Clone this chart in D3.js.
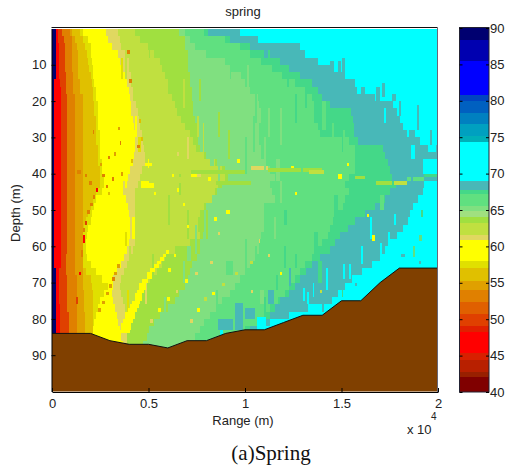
<!DOCTYPE html>
<html lang="en">
  <head>
    <meta charset="UTF-8" />
    <title>spring</title>
    <script src="https://d3js.org/d3.v7.min.js"></script>
    <style>
      html, body { margin: 0; background: #fff; }
      svg { display: block; }
      text { font-family: "Liberation Sans", Arial, sans-serif; font-size: 13px; fill: #222; }
    </style>
  </head>
  <body>
    <svg width="505" height="465"></svg>
    <script>
      // colour bar: band limits (dB) and the colour of each band
      const levelBreaks = [40, 42, 42.8, 44.4, 45.3, 48.3, 49.1, 50.7, 52.3, 54, 55.3, 57, 58, 60.9, 61.6, 63.2, 64.1, 64.8, 65.6, 67.2, 67.8, 69, 74.4, 75.2, 76.8, 78.3, 80, 80.8, 85.4, 88.4, 90];
      const levelColors = ["#800000", "#982000", "#b82000", "#d82000", "#ff0000", "#e02000", "#e04000", "#e06000", "#e08000", "#e0a000", "#e0c000", "#e0e000", "#ffff00", "#e0d860", "#c0e040", "#a0e040", "#a0e080", "#80e080", "#60e080", "#44d888", "#48b8b8", "#00ffff", "#00b0b8", "#00a0c0", "#0080c0", "#0060c0", "#0044c0", "#0000ff", "#0000b0", "#000070"];
      const colorbarTicks = [40, 45, 50, 55, 60, 65, 70, 75, 80, 85, 90];
      const depthTicks = [10, 20, 30, 40, 50, 60, 70, 80, 90];
      const rangeTicks = [0, 5000, 10000, 15000, 20000];
      const rangeTickLabels = ["0", "0.5", "1", "1.5", "2"];

      // sea floor
      const bottomRange = [0, 2000, 3000, 4000, 5000, 6000, 7000, 8000, 9000, 10000, 11000, 12000, 13000, 14000, 15000, 16000, 17000, 18000, 20000];
      const bottomDepth = [84, 84, 86, 87, 87, 88, 86, 86, 84, 83, 83, 81, 79, 79, 75, 75, 70, 66, 66];

      // depth rows, 2 m thick: d0, d2 ... d88
      const rowDepths = d3.range(0, 90, 2);
      // level inside each band, left to right. cyan runs from the last edge to 20 km
      const bandValues = [89, 46.5, 50, 53, 54.6, 56, 57.5, 59.5, 61.2, 62.5, 63.6, 65.2, 66.4, 67.5, 68.4, 72];

      // where each band ends on every depth row, in hundreds of metres
      const navyEnd = [2,2,2,2,2,2,2, 1,1,1,1,1,1,1,1,1,1,1,1,1,1,1,1,1,1,1,1,1,1,1,1,1,1, 2,2,2,2,2,2,2,2,2,2,2,2];
      const redEnd = [3,3,3.5,3.5,3.5,3.5,3.5,4, 4.5,4.5,4.5,4.5,4.5,4.5,4.5,4.5,4.5,4.5,4.5,4.5,4.5,4.5,4.5,4.5,4.5,4.5,4.5,4.5,4.5,4.5,4.5,4.5,4.5, 3.5,3.5,3.5,3.5,3.5, 4,4,4,4,4,4,4];
      const orange50End = [5,6,6.5,6.5,6.5,6.5,7,7,7, 8,8,8,8,8,8,8,8,8,8,8,8,8,8,8,8,8,8,8,8,8,8, 7,7,7, 8,8,8,8,8, 9,9,9,9,9,9];
      const orange53End = [9.5,10.5,10.5,10.5,10.5,10.5,11,11,11, 12,12,12,12,12,12,12,12,12,12,12,12,12,12,12,12,12,12,12,12,12,12,12,12,12, 13,13,13,13,13,13,13,13,13,13,13];
      const orange55End = [10.5,12,13,13.5,13.5,13.5,13.5,14.5,14.5, 16,16,16,16,16,16,16,16,16,16,16,16,16,16,16,16,16,16,16,16,16,16,16,16,16,16,16, 16.5,16.5,16.5, 17,17,17,17,17,17];
      const amberEnd = [14.5,16,17,18,18.5,19,20,20.5,21,21.5,22,22,23,23,23,23,24,24,24,25,25,25,23,21,20,18.5,17.5,16.5,16,16,16,16,16,17.5,20,20.5,21,21,21,21,21,21,21,21,21];
      const oliveEnd = [16,18.5,20,20,20.5,21,21.5,22,23,23,24,24,24,24,25,25,25,25,26,26,27,27,26,23,22,20.5,20,18.5,18,17.5,17.5,18,20,23,26,29,27,25,24,23,22,21.5,21.5,21.5,21.5];
      const yellowEnd = [28,29,31,34,35,36,38,39,40,40.5,41,41.5,42,42.5,43,43,43,42.5,42,40.5,39.5,39,38,38.5,39.5,40,40.5,40.5,40.5,40,39,37.5,36,33.5,31.5,31.5,31,31.5,32.5,33.5,34,35,36,37,37];
      const paleEnd = [34,35,36,38,40,40,41,41,42,43,43.5,44.5,45,45.5,46.5,47,47.5,48,48,46.5,45.5,44.5,43,43,43,43,43,43,43,43,42,40.5,39,37.5,36,35,36,37,38,39,39,39,39,39,39];
      const limeEnd = [43,45.5,49.5,53,56,57,58.5,60,61,62,63.5,65,67,69,71.5,73,74.5,79,84.5,88,89.5,86,84.5,83,79,76.5,75.5,75.5,76.5,71.5,63.5,58.5,57,54.5,51,48,45.5,44.5,43,41.5,40.5,39.5,39,39,39];
      const grassEnd = [66,69,69,70.5,70.5,70.5,71.5,71.5,72.5,72.5,74,74,74,75,75,75.5,76.5,80,85.5,89.5,91,88,85.5,83,80,79,79,79,78,76.5,76.5,75,72.5,71.5,70.5,69,66,63.5,60,56,53,50.5,49,47,45.5];
      const mintEnd = [69,71.5,74,80,89.5,93,97.5,100,102.5,106.5,107.5,108.5,108.5,107.5,107.5,107.5,108.5,108.5,110,113,115.5,113,114,115.5,110,110,110,110,108.5,106.5,105,105,102.5,100,97.5,95,92,88,86,82,79,76.5,74,71.5,69];
      const greenEnd = [79,89.5,97.5,102.5,108.5,114,119,126,131,134.5,136,136,136,138,139,154,157,157,157,157,154,152,154,152,151,148,145.5,144,143,140,138,134.5,131,128.5,126,123,120.5,117,113,110,106.5,100,95,89.5,84.5];
      const seaEnd = [81,92,102.5,110,118,123,128.5,134.5,138,140,144,155,156,156.5,156.5,158.5,171.5,172.5,174,175,176,178,175,172.5,167.5,162,157,153.5,149,146.5,144,139,134.5,131.5,128.5,126,123,120.5,115.5,113,109,102.5,97.5,93,89.5];
      const tealEnd = [97.5,106.5,128.5,131,138,144,152,157,162,167.5,176.5,179,180.5,182,188,190.5,195,200,192,192,200,193,192,189.5,187,185.5,184.5,182,179,175,172.5,170,166,160.5,155.5,152,148,145,132.5,123,113,106.5,100,97.5,95];
      const bandEnds = [navyEnd, redEnd, orange50End, orange53End, orange55End, amberEnd, oliveEnd, yellowEnd, paleEnd, limeEnd, grassEnd, mintEnd, greenEnd, seaEnd, tealEnd];

      const frayedEdges = [
        [36,37,8,14,57.5],[41,42,18,24,61.2],[43,44,24,30,59.5],[44.5,46,30,34,57.5],[37,38,42,46,61.2],[40,41,46,52,61.2],[41.5,43,52,58,59.5],[38,39,56,60,57.5],
        [38,39,6,14,62.5],[42,43,12,20,62.5],[45,46,18,26,62.5],[47,48,24,32,62.5],[48,49,36,40,62.5],[44,45,46,54,62.5],[40,41,60,66,62.5],[36,37,70,74,62.5],[39,40,72,80,57.5],
        [50,51,2,8,63.6],[58,59,6,12,63.6],[64,65,12,20,63.6],[68,69,14,22,62.5],[75,76,20,30,62.5],[78,79,26,34,62.5],[70,71,30,36,61.2],[66,67,40,46,63.6],[60,61,46,54,63.6],[70,71,50,58,63.6],[52,53,62,68,63.6],[48,49,70,76,61.2],
        [72,73,4,10,65.2],[76,77,14,20,63.6],[73,74,16,24,65.2],[82,84,32,38,65.2],[86,87,34,42,65.2],[80,81,50,58,63.6],[74,75,54,62,65.2],[68,69,64,70,65.2],[64,65,68,74,63.6],[58,59,74,80,65.2],
        [92,93,8,14,66.4],[101,102,10,16,65.2],[105,106,18,26,66.4],[112,113,22,30,65.2],[100,101,30,40,66.4],[116,118,36,42,65.2],[118,119,42,48,65.2],[112,113,48,56,66.4],[106,107,56,62,65.2],[100,101,58,66,66.4],[92,93,66,72,65.2],[85,86,72,78,66.4],[80,81,74,80,65.2],
        [112,113,6,8,67.5],[122,123,12,16,67.5],[131,132,18,22,67.5],[140,142,20,28,66.4],[150,152,28,36,66.4],[146,148,46,54,67.5],[136,138,56,62,67.5],[126,127,62,66,67.5],[116,117,68,72,67.5],[110,111,74,78,67.5],
        [134,135,4,6,72],[140,141,6,10,72],[150,152,8,12,68.4],[158,160,14,18,72],[168,170,16,20,68.4],[172,173,22,26,72],[184,185,26,30,72],[196,197,28,32,68.4],[186,188,32,36,72]
      ];
      const orangeDots = [
        [39,40.5,6,7,53],[40,41.5,14,15,53],[34,35,27,28,54.6],[35,36,31,32,53],[44,45.5,32,33,53],[29,30,35,36,53],[32,33,34,35,54.6],[21,22,28,29,53],
        [13,15,39,40,53],[17,18,40,41,53],[19,20.5,42,43,53],[26,27.5,40,41,53],[31,32,41,42,53],[36,37,39.5,40.5,54.6],[23,24,44,45,46.5],[28,29,43,44,53],[25,26,37,38,54.6],
        [21,22.5,46,47,53],[19.5,21,48,49,53],[18,19.5,50,51,53],[17,18,53,54,50],[16,17,55,56,53],[16,17,57,59,46.5],[15,16,61,63,53],[14,15,67,68,46.5],[12.5,13.5,74,76,50],
        [24,25.5,77,78,54.6],[26,27.5,75,76,54.6],[28,29.5,72.5,73.5,54.6],[29.5,31,70.5,71.5,54.6],[31,32.5,68.5,69.5,53],[32,33.5,67,68,54.6],[33.5,35,65,66,54.6],
        [29,30,45,46,56],[45,46,25,26,56],[46,47,30,31,56],[41,42,36,37,56],[68,69,48,49,59.5]
      ];
      const yellowDiagonals = [
        [35,40.5,83,84,59.5],[36,41,81,83,59.5],[37,42,80,81,59.5],[38,43,78,80,59.5],[39.5,44,77,78,59.5],[40.5,45,76,77,59.5],[41.5,45.5,75,76,59.5],[43,46.5,73,75,59.5],[44,47.5,72,73,59.5],[45,48.5,70,72,59.5],[46.5,49.5,69,70,59.5],
        [49,52,67,69,59.5],[51,53.5,66,67,59.5],[53,55.5,65,66,59.5],[54.5,56.5,64,65,59.5],[56,58,63,64,59.5],[57.5,59,62,63,59.5],[59,60.5,61,62,59.5],
        [51,52.5,80,81,61.2],[55,56.5,77,78,59.5],[59.5,61,74,75,59.5],[64,65.5,72,73,61.2],[69,70.5,69,70,59.5],[74,75.5,67,68,61.2],[82,83.5,64,65,61.2],
        [71.5,73,80,81,61.2],[75,76.5,77,78,59.5],[79,80.5,74,75,62.5],[83,84.5,72.5,73.5,59.5],[88,89.5,70,71,62.5],[95,96.5,67,68,62.5],[102.5,104,64,65,62.5],
        [60,61.5,66,67,59.5],[63,64.5,62,63,59.5],[66,67,58,59,62.5],[70,71,54,55,59.5],[86,87,56,57,61.2],[78,79,47,48,62.5]
      ];
      const yellowDots = [
        [49.5,50.5,36,38.5,59.5],[48,52,37,37.8,59.5],[46,53,42,44,59.5],[62,63,40,41,59.5],[72,75,40,41,59.5],[65,66,44,45,59.5],[53,54,45,46,59.5],[65,66,34,35,61.2],
        [124,125.5,38,39,59.5],[148,150,40,41.5,59.5],[153,154,37,38,59.5],[126,127,45,46,59.5],[163,164,51,52,59.5],[166,167.5,57,58.5,59.5],[81,82.5,41,42,59.5],
        [75,77,40,41,61.2],[96,97.5,36,37,59.5],[90,92,50,51,59.5],[84,85.5,52,53,59.5],[107,108,58,59,61.2],[112,113,62,63,61.2],[118,119,67,68,59.5],[103,104,72,73,61.2]
      ];
      const depth40Streak = [
        [103,112,38,39,61.2],[112,140,38.5,39.5,63.6],[133,141,39,40,62.5],[157,162,40.5,41.5,63.6],[168,176,42,43,63.6],[177,184,42,43,62.5],[184,193,41,42,66.4],[193,200,40,41,67.5],
        [72,100,39,40,63.6],[50,72,41,42.5,62.5],[85,103,42,43,63.6]
      ];
      const greenStripes = [
        [81,83.5,20,31,65.2],[86,87,23,30,63.6],[91,92,28,36,63.6],[75,76,10,24,65.2],[60,61,4,18,63.6],[54,55,12,26,62.5],[97,98,12,20,65.2],[104,105,24,34,66.4],[110,111,30,42,65.2],
        [118,119,22,32,65.2],[126,127,18,26,67.5],[129,130,30,40,66.4],[145,146,26,38,66.4],[150,151,22,34,67.5],[133,134,48,60,66.4],[120,122,50,54,67.5],[90,94,64,68,66.4],[120,121,60,66,67.5],
        [108,110,72,76,65.2],[100,102,68,72,66.4],[70,72,60,64,65.2],[115,116,52,58,65.2],[138,140,64,70,67.5],[163,165,45,50,67.5],[170,172,46,50,66.4]
      ];
      // teal spikes and cyan pockets along the edge of the cyan water
      const edgeSpikes = [
        [171,172.5,15,19,68.4],[189,190,21,28,68.4],[144,146,9,13,68.4],[148,149.5,9,13,68.4],[176,178,18,20,68.4],[180,181,20,24,68.4],[199,200,32,36,68.4],
        [191,192,50,52,67.5],[190,191.5,57,58.5,66.4],[187,188,60,63,66.4],[181,183,62,63,68.4],[190,191,64,65,68.4],[186,187,40,48,68.4],[188,190,44,46,68.4],[178,180,48,56,68.4],
        [174,175,56,60,72],[177,178,51,54,72],[170,171,59,63,72],[154,155,65,69,72],[151,152,65,69,72],[135,136,70,74,72],[130,131,71.5,75,72],[132,133,72.5,76,72],
        [106,111,79.5,83,72],[87,88.5,82,85,72],[165,166,52,58,72],[160,161,60,65,72],[142,143,66,72,72],
        [95,99,75.5,83,68.4],[86,94,80,83,68.4],[100,105,77,80,68.4],[123,124,66,71,68.4],[112,115,72,76,68.4],[136,138,67,73,68.4],[145,147,70,74,68.4],[118,122,74,78,68.4],[126,128,75,77,68.4],
        [157,158,70,71,68.4],[140,141,76,78,68.4],[150,151,72,74,67.5],[139,140,72,73,62.5]
      ];
      const extraPatches = [frayedEdges, orangeDots, yellowDiagonals, yellowDots, depth40Streak, greenStripes, edgeSpikes];

      let plot = { left: 52, right: 438, top: 28.5, bottom: 391.5 };
      let xScale = d3.scaleLinear().domain([0, 20000]).range([plot.left, plot.right]);
      let yScale = d3.scaleLinear().domain([0, 100]).range([plot.top, plot.bottom]);
      let barScale = d3.scaleLinear().domain([40, 90]).range([392, 28]);
      let colorScale = d3.scaleThreshold().domain(levelBreaks.slice(1, -1)).range(levelColors);

      let svg = d3.select("svg");

      // turn the band edges into one cell per band per row
      let cells = [];
      rowDepths.forEach((depth, i) => {
        let from = 0;
        bandValues.forEach((value, b) => {
          let to = b < bandEnds.length ? Math.max(from, bandEnds[b][i]) : 200;
          cells.push({ r0: from, r1: to, d0: depth, d1: depth + 2, value: value });
          from = to;
        });
      });
      extraPatches.forEach((list) => {
        list.forEach((p) => cells.push({ r0: p[0], r1: p[1], d0: p[2], d1: p[3], value: p[4] }));
      });

      svg
        .append("g")
        .attr("shape-rendering", "crispEdges")
        .selectAll("rect")
        .data(cells)
        .enter()
        .append("rect")
        .attr("x", (d) => xScale(d.r0 * 100))
        .attr("y", (d) => yScale(d.d0))
        .attr("width", (d) => xScale(d.r1 * 100) - xScale(d.r0 * 100))
        .attr("height", (d) => yScale(d.d1) - yScale(d.d0))
        .attr("fill", (d) => colorScale(d.value));

      // sea floor in brown
      let bottom = bottomRange.map((r, i) => ({ r: r, d: bottomDepth[i] }));
      let bottomArea = d3.area().x((d) => xScale(d.r)).y0(yScale(100)).y1((d) => yScale(d.d));
      let bottomLine = d3.line().x((d) => xScale(d.r)).y((d) => yScale(d.d));
      svg.append("path").datum(bottom).attr("d", bottomArea).attr("fill", "#804000");
      svg.append("path").datum(bottom).attr("d", bottomLine).attr("fill", "none").attr("stroke", "#111").attr("stroke-width", 1);

      // axes, ticks point inward
      let xAxis = d3.axisBottom(xScale).tickValues(rangeTicks).tickSizeInner(-4).tickSizeOuter(0).tickPadding(7).tickFormat((d, i) => rangeTickLabels[i]);
      let yAxis = d3.axisLeft(yScale).tickValues(depthTicks).tickSizeInner(-4).tickSizeOuter(0).tickPadding(5);
      svg.append("g").attr("transform", "translate(0," + (plot.bottom + 0.5) + ")").call(xAxis);
      svg.append("g").attr("transform", "translate(" + (plot.left - 0.5) + ",0)").call(yAxis);
      svg.append("path").attr("d", "M51.5,27.5H437.5").attr("stroke", "#111").attr("fill", "none");
      svg.append("path").attr("d", "M437.5,27.5V392").attr("stroke", "#667").attr("fill", "none");

      // colour bar
      let barCells = levelColors.map((c, i) => ({ low: levelBreaks[i], high: levelBreaks[i + 1], color: c }));
      svg
        .append("g")
        .attr("shape-rendering", "crispEdges")
        .selectAll("rect")
        .data(barCells)
        .enter()
        .append("rect")
        .attr("x", 460)
        .attr("width", 29)
        .attr("y", (d) => barScale(d.high))
        .attr("height", (d) => barScale(d.low) - barScale(d.high))
        .attr("fill", (d) => d.color);
      svg.append("rect").attr("x", 459.5).attr("y", 27.5).attr("width", 29.5).attr("height", 364.5).attr("fill", "none").attr("stroke", "#223");
      let barAxis = d3.axisRight(barScale).tickValues(colorbarTicks).tickSizeInner(-3).tickSizeOuter(0).tickPadding(1);
      let barG = svg.append("g").attr("transform", "translate(489,0)").call(barAxis);
      barG.select(".domain").remove();
      let barLeft = d3.axisLeft(barScale).tickValues(colorbarTicks).tickSizeInner(-3).tickSizeOuter(0).tickFormat("");
      let barLeftG = svg.append("g").attr("transform", "translate(459.5,0)").call(barLeft);
      barLeftG.select(".domain").remove();
      svg.selectAll(".tick text").style("font-size", "13px");

      // labels
      svg.append("text").attr("x", 243).attr("y", 16).attr("text-anchor", "middle").text("spring");
      svg.append("text").attr("transform", "translate(20,213) rotate(-90)").attr("text-anchor", "middle").text("Depth (m)");
      svg.append("text").attr("x", 243).attr("y", 425).attr("text-anchor", "middle").text("Range (m)");
      svg.append("text").attr("x", 407).attr("y", 434).text("x 10");
      svg.append("text").attr("x", 431).attr("y", 420).style("font-size", "10px").text("4");
      svg
        .append("text")
        .attr("x", 271)
        .attr("y", 460)
        .attr("text-anchor", "middle")
        .style("font-family", "'Liberation Serif', 'Times New Roman', serif")
        .style("font-size", "21px")
        .style("fill", "#111")
        .text("(a)Spring");
    </script>
  </body>
</html>
